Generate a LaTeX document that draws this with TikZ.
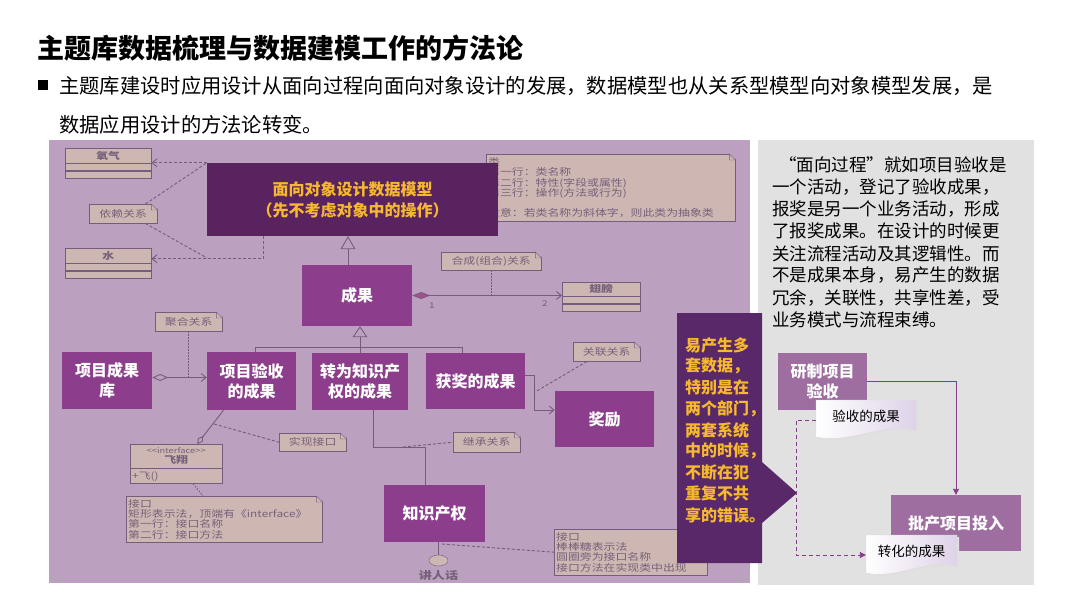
\documentclass[tikz,border=0pt]{standalone}
\usepackage{fontspec}
\setmainfont{Noto Sans CJK SC}
\newfontfamily\widefont[FakeStretch=1.25]{Noto Sans CJK SC}
\usetikzlibrary{arrows.meta,positioning,shapes.geometric}

\definecolor{panelbg}{RGB}{187,160,192}
\definecolor{greybg}{RGB}{225,225,225}
\definecolor{deepplum}{RGB}{88,35,95}
\definecolor{plum}{RGB}{140,62,140}
\definecolor{calloutbg}{RGB}{88,40,104}
\definecolor{mauve}{RGB}{158,110,160}
\definecolor{gold}{RGB}{246,184,46}
\definecolor{umlfill}{RGB}{206,183,178}
\definecolor{umlline}{RGB}{120,92,125}
\definecolor{umltext}{RGB}{118,96,122}
\definecolor{flowline}{RGB}{130,62,130}
\definecolor{doclav}{RGB}{222,210,232}
\definecolor{compfill}{RGB}{165,80,140}

\begin{document}
\begin{tikzpicture}[x=1pt, y=-1pt,
    box/.style={fill=plum, text=white, font=\fontsize{16}{20}\selectfont\bfseries, align=center, inner sep=0pt},
    flowbox/.style={fill=mauve, text=white, font=\fontsize{16}{20}\selectfont\bfseries, align=center, inner sep=0pt},
    note/.style={fill=umlfill, draw=umlline, text=umltext, font=\widefont\fontsize{9.5}{10.3}\selectfont, align=left, inner sep=2pt, anchor=north west},
    cls/.style={fill=umlfill, draw=umlline, text=umltext, font=\widefont\fontsize{9.5}{10.3}\selectfont\bfseries, inner sep=0pt, minimum width=86pt},
    small/.style={text=umltext, font=\widefont\fontsize{8}{9}\selectfont, inner sep=0pt},
    umlsolid/.style={draw=umlline, line width=0.9pt},
    umldash/.style={draw=umlline, line width=0.9pt, dash pattern=on 3pt off 2pt},
    umldot/.style={draw=umlline, line width=0.9pt, dash pattern=on 1.5pt off 1.5pt},
    barb/.style={-{Straight Barb[length=5pt,width=8pt]}},
    flowarrow/.style={draw=flowline, line width=0.9pt, -{Triangle[length=6pt,width=6pt]}},
    flowdash/.style={draw=flowline, line width=0.9pt, dash pattern=on 4pt off 3pt, -{Triangle[length=6pt,width=6pt]}},
    doc/.style={left color=white, right color=doclav, draw=white!85!black, line width=0.4pt},
    doctext/.style={font=\fontsize{13.5}{16}\selectfont, inner sep=0pt}
  ]
  \useasboundingbox (0,0) rectangle (1080,608);

  % heading
  \node[anchor=west, font=\fontsize{27}{32}\selectfont\bfseries, inner sep=0pt] (title) at (37,48) {主题库数据梳理与数据建模工作的方法论};
  \node[fill=black, minimum size=10pt, inner sep=0pt] (bullet) at (43,85) {};
  \node[anchor=west, font=\fontsize{20.3}{24}\selectfont, inner sep=0pt] (lead1) at (59,86) {主题库建设时应用设计从面向过程向面向对象设计的发展，数据模型也从关系型模型向对象模型发展，是};
  \node[anchor=west, font=\fontsize{20.3}{24}\selectfont, inner sep=0pt] (lead2) at (59,125) {数据应用设计的方法论转变。};

  % panels
  \fill[panelbg] (49,140) rectangle (750,583);
  \fill[greybg] (758,140) rectangle (1034,585);

  % faded uml sketch
  \node[cls, minimum height=15pt, anchor=north west] (oxy) at (65,148) {氧气};
  \node[cls, minimum height=7pt, below=0pt of oxy] (oxya) {};
  \node[cls, minimum height=7pt, below=0pt of oxya] (oxyb) {};
  \node[cls, minimum height=15pt, anchor=north west] (water) at (65,248) {水};
  \node[cls, minimum height=7pt, below=0pt of water] (watera) {};
  \node[cls, minimum height=7pt, below=0pt of watera] (waterb) {};
  \node[cls, minimum width=78pt, minimum height=14pt, anchor=north west] (wing) at (562,282) {翅膀};
  \node[cls, minimum width=78pt, minimum height=7pt, below=0pt of wing] (winga) {};
  \node[cls, minimum width=78pt, minimum height=7pt, below=0pt of winga] (wingb) {};
  \node[cls, minimum width=92pt, minimum height=24pt, anchor=north west, align=center] (ifc) at (130,444) {{\mdseries\fontsize{7.5}{8.5}\selectfont <<interface>>}\\飞翔};
  \node[cls, minimum width=92pt, minimum height=15pt, below=0pt of ifc, font=\widefont\fontsize{9.5}{10.3}\selectfont, align=left, text width=88pt] (ifcb) {+飞()};

  \node[note, minimum width=68pt, minimum height=19pt] (depnote) at (89,204) {依赖关系};
  \node[note, minimum width=67pt, minimum height=19pt] (aggnote) at (155,312) {聚合关系};
  \node[note, minimum width=100pt, minimum height=18pt] (compnote) at (441,252) {合成(组合)关系};
  \node[note, minimum width=67pt, minimum height=19pt] (assocnote) at (573,342) {关联关系};
  \node[note, minimum width=67pt, minimum height=18pt] (realnote) at (279,433) {实现接口};
  \node[note, minimum width=67pt, minimum height=20pt] (inhnote) at (453,432) {继承关系};
  \node[note, minimum width=249pt, minimum height=67pt, text width=245pt] (classnote) at (486,154)
    {类\\第一行：类名称\\第二行：特性(字段或属性)\\第三行：操作(方法或行为)\\[10.3pt]注意：若类名称为斜体字，则此类为抽象类};
  \node[note, minimum width=196pt, minimum height=46pt, text width=192pt] (ifcnote) at (126,496)
    {接口\\矩形表示法，顶端有《interface》\\第一行：接口名称\\第二行：接口方法};
  \node[note, minimum width=153pt, minimum height=46pt, text width=149pt] (lollinote) at (554,529)
    {接口\\棒棒糖表示法\\圆圈旁为接口名称\\接口方法在实现类中出现};
  \foreach \n in {depnote,aggnote,compnote,assocnote,realnote,inhnote,classnote,ifcnote,lollinote} {
    \fill[panelbg] ([xshift=-6pt]\n.north east) -- ([xshift=1pt]\n.north east) -- ([yshift=-6pt]\n.north east) -- cycle;
    \draw[umlline] ([xshift=-6pt]\n.north east) -- ([xshift=-6pt,yshift=-6pt]\n.north east) -- ([yshift=-6pt]\n.north east) -- cycle;
  }

  % object model
  \node[fill=deepplum, text=gold, font=\fontsize{16}{21}\selectfont\bfseries, align=center, minimum width=291pt, minimum height=73pt, inner sep=0pt] (model) at (352.5,199.5)
    {面向对象设计数据模型\\（先不考虑对象中的操作）};

  % purple boxes
  \node[box, minimum width=110pt, minimum height=61pt] (result) at (357,295.5) {成果};
  \node[box, minimum width=90pt, minimum height=57pt] (lib) at (107,380.5) {项目成果\\库};
  \node[box, minimum width=89pt, minimum height=58pt] (acc) at (251.5,381) {项目验收\\的成果};
  \node[box, minimum width=96pt, minimum height=57pt] (ipconv) at (360,381.5) {转为知识产\\权的成果};
  \node[box, minimum width=99pt, minimum height=56pt] (award) at (475.5,381) {获奖的成果};
  \node[box, minimum width=99pt, minimum height=56pt] (prize) at (604.5,419) {奖励};
  \node[box, minimum width=101pt, minimum height=57pt] (ip) at (434.5,513.5) {知识产权};
  \node[draw=umlline, fill=umlfill, ellipse, minimum width=19pt, minimum height=11pt, inner sep=0pt] (lolli) at (438.5,560.5) {};
  \node[small, font=\widefont\fontsize{10.5}{12}\selectfont\bfseries] (speak) at (438.5,575) {讲人话};
  \node[small] (mult1) at (432,306) {1};
  \node[small] (mult2) at (545,304) {2};

  \coordinate (wdep) at (207,258);
  \coordinate (busl) at (255,347);
  \coordinate (busr) at (462,347);
  \coordinate (assocpt) at (535,392);
  \coordinate (ipk) at (425,447);
  \coordinate (ipkl) at (403,447);
  \coordinate (realpt) at (214,424);
  \coordinate (lollipt) at (442,544);

  \draw[umldash, barb] (model.north west) -- (model.north west -| oxy.east);
  \draw[umldash, barb] ([xshift=57pt]model.south west) |- ([yshift=-3pt]water.east);
  \draw[umldash] ([xshift=-12pt]depnote.north east) -- (model.north west);
  \draw[umldash] ([xshift=-12pt]depnote.south east) -- (wdep);
  \draw[umlsolid, -{Triangle[open,length=13pt,width=15pt]}] ([xshift=-9pt]result.north) -- ([xshift=-9pt]result.north |- model.south);
  \draw[umlsolid, -{Triangle[open,length=11pt,width=15pt]}] (ipconv.north) -- (ipconv.north |- result.south);
  \draw[umlsolid] (busl |- acc.north) -- (busl) -- (busr) -- (busr |- award.north);
  \draw[umlsolid, {Diamond[open,length=16pt,width=7pt]}-{Straight Barb[length=5pt,width=8pt]}] ([yshift=3pt]lib.east) -- ([yshift=3pt]lib.east -| acc.west);
  \draw[umldot] (aggnote.south) -- ++(0,46);
  \draw[umlsolid, {Diamond[length=18pt,width=7pt,fill=compfill]}-{Straight Barb[length=5pt,width=8pt]}] (result.east) -- (result.east -| wing.west);
  \draw[umldot] (compnote.south) -- (compnote.south |- result.east);
  \draw[umlsolid, barb] ([yshift=6pt]award.east) -- ++(9,0) |- ([yshift=9pt]prize.west);
  \draw[umldash] ([xshift=14pt]assocnote.south west) -- (assocpt);
  \draw[umlsolid] ([xshift=13pt]ipconv.south) |- (ipk) -- (ipk |- ip.north);
  \draw[umldash] (ipkl) -- (inhnote.west);
  \draw[umlsolid, -{Diamond[open,length=10pt,width=6pt]}] ([xshift=-28pt]acc.south) -- ([xshift=21pt]ifc.north);
  \draw[umldash] (realpt) -- (realnote.west);
  \draw[umldot] ([xshift=17pt]ifcb.south) -- ([xshift=77pt]ifcnote.north west);
  \draw[umlsolid] (lolli.north) -- (lolli.north |- ip.south);
  \draw[umldash] (lollipt) -- (lollinote.west);

  % callout
  \fill[calloutbg] (677,313) -- (762,313) -- (762,462) -- (797,493) -- (762,523) -- (762,563) -- (677,563) -- cycle;
  \foreach \txt [count=\i from 0] in {易产生多, 套数据，, 特别是在, 两个部门，, 两套系统, 中的时候，, 不断在犯, 重复不共, 享的错误。}
    \node[anchor=west, text=gold, font=\fontsize{16}{20}\selectfont\bfseries, inner sep=0pt] (warn\i) at (685,345+21.25*\i) {\txt};

  % process view
  \foreach \txt [count=\i from 0] in {{\hspace{7pt}“面向过程”就如项目验收是}, 一个活动，登记了验收成果，, 报奖是另一个业务活动，形成, 了报奖成果。在设计的时候更, 关注流程活动及其逻辑性。而, 不是成果本身，易产生的数据, 冗余，关联性，共享性差，受, 业务模式与流程束缚。}
    \node[anchor=west, font=\fontsize{17.5}{20}\selectfont, inner sep=0pt] (story\i) at (772,165+22.1*\i) {\txt};

  \node[flowbox, minimum width=89pt, minimum height=57pt] (trial) at (822.5,381.5) {研制项目\\验收};
  \node[flowbox, minimum width=130pt, minimum height=56pt] (batch) at (956,523) {批产项目投入};
  \draw[flowarrow] (trial.east) -| (batch.north);

  \fill[black!12] (818,402) -- (918,402) -- (918,432) .. controls (888,424) and (852,446) .. (818,439) -- cycle;
  \path[doc] (816,400) -- (916,400) -- (916,430) .. controls (886,422) and (850,444) .. (816,437) -- cycle;
  \node[doctext, minimum width=100pt] (accdoc) at (866,416) {验收的成果};
  \fill[black!12] (868,537) -- (959,537) -- (959,568) .. controls (932,560) and (898,582) .. (868,575) -- cycle;
  \path[doc] (866,535) -- (957,535) -- (957,566) .. controls (930,558) and (896,580) .. (866,573) -- cycle;
  \node[doctext, minimum width=91pt] (convdoc) at (911.5,551) {转化的成果};

  \coordinate (dtop) at (796,420);
  \coordinate (dbot) at (796,555);
  \draw[flowdash] ([yshift=-4pt]accdoc.west) -- (dtop) -- (dbot) -- ([yshift=-4pt]convdoc.west);
\end{tikzpicture}
\end{document}
